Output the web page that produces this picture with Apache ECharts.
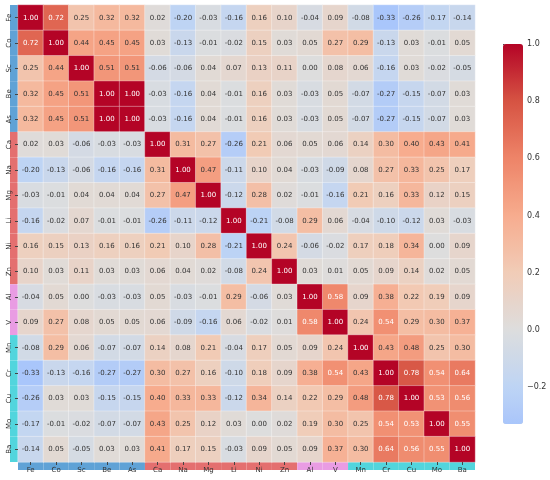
<!DOCTYPE html>
<html>
<head>
<meta charset="utf-8">
<script src="https://cdn.jsdelivr.net/npm/echarts@6/dist/echarts.min.js"></script>
<style>
  html, body { margin: 0; padding: 0; background: #fff; }
  #container { width: 550px; height: 480px; }
</style>
</head>
<body>
<div id="container"></div>
<script>
// element names, in row / column order
const elements = ["Fe", "Co", "Sc", "Be", "As", "Ca", "Na", "Mg", "Li", "Ni", "Zn", "Al", "V", "Mn", "Cr", "Cu", "Mo", "Ba"];
// group of each element (coloured strip next to the labels)
const groups = ["A", "A", "A", "A", "A", "B", "B", "B", "B", "B", "B", "C", "C", "D", "D", "D", "D", "D"];

// correlation matrix, one row per element
const rowFe = [1.00, 0.72, 0.25, 0.32, 0.32, 0.02, -0.20, -0.03, -0.16, 0.16, 0.10, -0.04, 0.09, -0.08, -0.33, -0.26, -0.17, -0.14];
const rowCo = [0.72, 1.00, 0.44, 0.45, 0.45, 0.03, -0.13, -0.01, -0.02, 0.15, 0.03, 0.05, 0.27, 0.29, -0.13, 0.03, -0.01, 0.05];
const rowSc = [0.25, 0.44, 1.00, 0.51, 0.51, -0.06, -0.06, 0.04, 0.07, 0.13, 0.11, 0.00, 0.08, 0.06, -0.16, 0.03, -0.02, -0.05];
const rowBe = [0.32, 0.45, 0.51, 1.00, 1.00, -0.03, -0.16, 0.04, -0.01, 0.16, 0.03, -0.03, 0.05, -0.07, -0.27, -0.15, -0.07, 0.03];
const rowAs = [0.32, 0.45, 0.51, 1.00, 1.00, -0.03, -0.16, 0.04, -0.01, 0.16, 0.03, -0.03, 0.05, -0.07, -0.27, -0.15, -0.07, 0.03];
const rowCa = [0.02, 0.03, -0.06, -0.03, -0.03, 1.00, 0.31, 0.27, -0.26, 0.21, 0.06, 0.05, 0.06, 0.14, 0.30, 0.40, 0.43, 0.41];
const rowNa = [-0.20, -0.13, -0.06, -0.16, -0.16, 0.31, 1.00, 0.47, -0.11, 0.10, 0.04, -0.03, -0.09, 0.08, 0.27, 0.33, 0.25, 0.17];
const rowMg = [-0.03, -0.01, 0.04, 0.04, 0.04, 0.27, 0.47, 1.00, -0.12, 0.28, 0.02, -0.01, -0.16, 0.21, 0.16, 0.33, 0.12, 0.15];
const rowLi = [-0.16, -0.02, 0.07, -0.01, -0.01, -0.26, -0.11, -0.12, 1.00, -0.21, -0.08, 0.29, 0.06, -0.04, -0.10, -0.12, 0.03, -0.03];
const rowNi = [0.16, 0.15, 0.13, 0.16, 0.16, 0.21, 0.10, 0.28, -0.21, 1.00, 0.24, -0.06, -0.02, 0.17, 0.18, 0.34, 0.00, 0.09];
const rowZn = [0.10, 0.03, 0.11, 0.03, 0.03, 0.06, 0.04, 0.02, -0.08, 0.24, 1.00, 0.03, 0.01, 0.05, 0.09, 0.14, 0.02, 0.05];
const rowAl = [-0.04, 0.05, 0.00, -0.03, -0.03, 0.05, -0.03, -0.01, 0.29, -0.06, 0.03, 1.00, 0.58, 0.09, 0.38, 0.22, 0.19, 0.09];
const rowV  = [0.09, 0.27, 0.08, 0.05, 0.05, 0.06, -0.09, -0.16, 0.06, -0.02, 0.01, 0.58, 1.00, 0.24, 0.54, 0.29, 0.30, 0.37];
const rowMn = [-0.08, 0.29, 0.06, -0.07, -0.07, 0.14, 0.08, 0.21, -0.04, 0.17, 0.05, 0.09, 0.24, 1.00, 0.43, 0.48, 0.25, 0.30];
const rowCr = [-0.33, -0.13, -0.16, -0.27, -0.27, 0.30, 0.27, 0.16, -0.10, 0.18, 0.09, 0.38, 0.54, 0.43, 1.00, 0.78, 0.54, 0.64];
const rowCu = [-0.26, 0.03, 0.03, -0.15, -0.15, 0.40, 0.33, 0.33, -0.12, 0.34, 0.14, 0.22, 0.29, 0.48, 0.78, 1.00, 0.53, 0.56];
const rowMo = [-0.17, -0.01, -0.02, -0.07, -0.07, 0.43, 0.25, 0.12, 0.03, 0.00, 0.02, 0.19, 0.30, 0.25, 0.54, 0.53, 1.00, 0.55];
const rowBa = [-0.14, 0.05, -0.05, 0.03, 0.03, 0.41, 0.17, 0.15, -0.03, 0.09, 0.05, 0.09, 0.37, 0.30, 0.64, 0.56, 0.55, 1.00];

const matrix = [rowFe, rowCo, rowSc, rowBe, rowAs, rowCa, rowNa, rowMg, rowLi, rowNi, rowZn, rowAl, rowV, rowMn, rowCr, rowCu, rowMo, rowBa];

// colour bar ticks
const barTicks = [-0.2, 0.0, 0.2, 0.4, 0.6, 0.8, 1.0];
const vMin = -0.33;
const vMax = 1.0;

const groupColors = { A: "#5fa2d6", B: "#e46f6f", C: "#e99ce3", D: "#52d5dd" };

// matplotlib coolwarm, sampled at 0, 0.1 ... 1
const coolwarm = [
  [59, 76, 192], [89, 119, 227], [123, 159, 249], [158, 190, 255], [190, 212, 244],
  [221, 221, 221], [241, 204, 183], [247, 172, 142], [238, 132, 104], [214, 83, 67], [180, 4, 38]
];
function cw(t) {
  const p = Math.max(0, Math.min(1, t)) * 10;
  const i = Math.min(9, Math.floor(p));
  const f = p - i;
  const a = coolwarm[i], b = coolwarm[i + 1];
  const c = a.map((x, k) => Math.round(x + (b[k] - x) * f));
  return "rgb(" + c.join(",") + ")";
}
// centred at 0 like seaborn (center=0): value v -> (v + 1) / 2
const rampColors = [];
for (let k = 0; k <= 40; k++) {
  const v = vMin + (vMax - vMin) * k / 40;
  rampColors.push(cw((v + 1) / 2));
}

const heatData = [];
matrix.forEach((row, r) => {
  row.forEach((v, c) => {
    heatData.push({
      value: [c, r, v],
      label: { color: v >= 0.52 ? "#ffffff" : "#333333" }
    });
  });
});

const dom = document.getElementById("container");
const myChart = echarts.init(dom, null, { renderer: "canvas" });

const labelFont = "DejaVu Sans";

const option = {
  backgroundColor: "#fff",
  animation: false,
  grid: [
    { left: 18, top: 5, width: 457, height: 457 },
    { left: 10, top: 5, width: 8, height: 457 },
    { left: 18, top: 462, width: 457, height: 8 },
    { left: 503, top: 44, width: 20, height: 380 }
  ],
  xAxis: [
    {
      gridIndex: 0, type: "category", data: elements, z: 5,
      axisLine: { show: false },
      axisTick: { show: true, length: 3, lineStyle: { color: "#444" }, alignWithLabel: true },
      axisLabel: { margin: 5, fontSize: 7, color: "#333", fontFamily: labelFont },
      splitArea: { show: false }
    },
    { gridIndex: 1, type: "value", min: 0, max: 1, show: false },
    { gridIndex: 2, type: "category", data: elements, show: false },
    { gridIndex: 3, type: "value", show: false, min: 0, max: 1 }
  ],
  yAxis: [
    {
      gridIndex: 0, type: "category", data: elements, inverse: true, z: 5,
      axisLine: { show: false },
      axisTick: { show: true, length: 3, lineStyle: { color: "#444" }, alignWithLabel: true },
      axisLabel: { margin: 5, fontSize: 7, rotate: 90, color: "#333", fontFamily: labelFont },
      splitArea: { show: false }
    },
    { gridIndex: 1, type: "category", data: elements, inverse: true, show: false },
    { gridIndex: 2, type: "value", min: 0, max: 1, show: false },
    {
      gridIndex: 3, type: "value", min: vMin, max: vMax, position: "right",
      axisLine: { show: false },
      splitLine: { show: false },
      axisTick: { show: true, length: 3, lineStyle: { color: "#444" }, customValues: barTicks },
      axisLabel: {
        margin: 4, fontSize: 8, color: "#333", fontFamily: labelFont,
        customValues: barTicks,
        formatter: (v) => (v < 0 ? "\u2212" : "") + Math.abs(v).toFixed(1)
      }
    }
  ],
  visualMap: {
    type: "continuous",
    seriesIndex: 0,
    min: vMin,
    max: vMax,
    calculable: false,
    left: 503,
    top: 44,
    padding: 0,
    itemWidth: 20,
    itemHeight: 380,
    showLabel: false,
    text: null,
    inRange: { color: rampColors }
  },
  series: [
    {
      type: "heatmap",
      xAxisIndex: 0,
      yAxisIndex: 0,
      data: heatData,
      itemStyle: { borderColor: "rgba(255,255,255,0.55)", borderWidth: 0.6 },
      label: {
        show: true,
        fontSize: 7,
        fontFamily: labelFont,
        formatter: (p) => p.value[2].toFixed(2)
      },
      emphasis: { disabled: true }
    },
    {
      type: "bar",
      xAxisIndex: 1,
      yAxisIndex: 1,
      z: 1,
      barWidth: "100%",
      data: groups.map((g) => ({ value: 1, itemStyle: { color: groupColors[g] } }))
    },
    {
      type: "bar",
      xAxisIndex: 2,
      yAxisIndex: 2,
      z: 1,
      barWidth: "100%",
      data: groups.map((g) => ({ value: 1, itemStyle: { color: groupColors[g] } }))
    }
  ]
};

myChart.setOption(option);
window.addEventListener("resize", myChart.resize);
</script>
</body>
</html>
